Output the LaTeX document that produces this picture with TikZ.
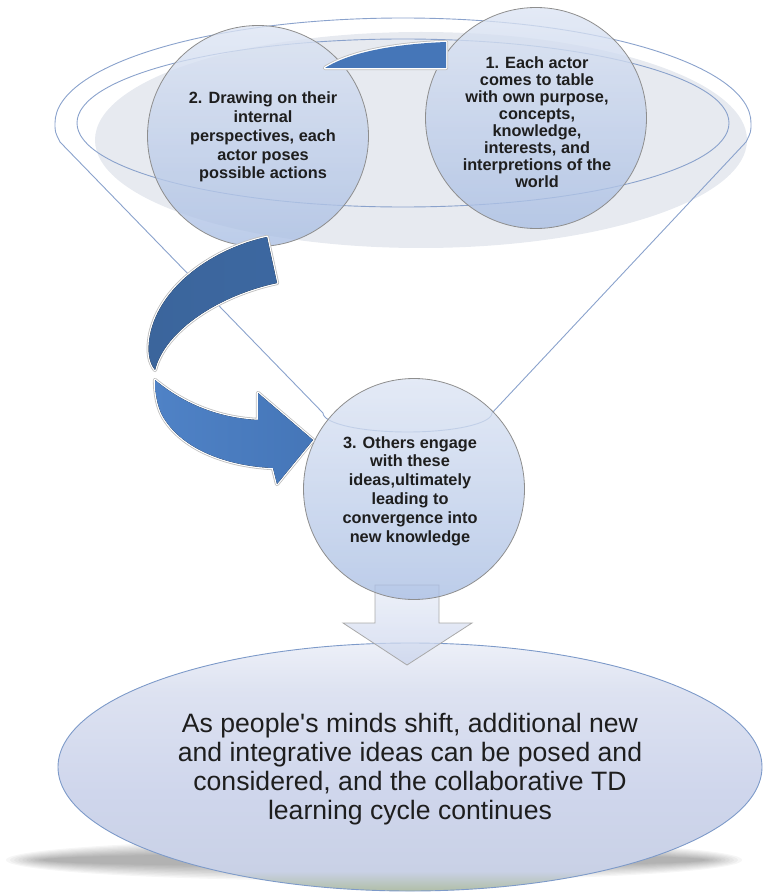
\documentclass[tikz,border=0pt]{standalone}
\usepackage{fontspec}
\setmainfont{Liberation Sans}
\usetikzlibrary{shapes.geometric}

\definecolor{textdark}{HTML}{1E1E1E}
\definecolor{rimline}{HTML}{8AA2CC}
\definecolor{rimfill}{HTML}{E7EAF0}
\definecolor{bubbleedge}{HTML}{8E8E8E}
\definecolor{bubbletop}{HTML}{DCE4F3}
\definecolor{bubblebot}{HTML}{A9BEE3}
\definecolor{ribbondark}{HTML}{3B659C}
\definecolor{ribbonmid}{HTML}{4576B8}
\definecolor{ribbonlight}{HTML}{4F82C6}
\definecolor{bevel}{HTML}{BDBDBD}
\definecolor{resedge}{HTML}{7D9AC9}
\definecolor{downtop}{HTML}{E6EBF6}
\definecolor{downbot}{HTML}{C9D3EC}
\definecolor{downedge}{HTML}{A9A9A9}
\definecolor{resA}{HTML}{B0BEA6}
\definecolor{resB}{HTML}{C9D1E6}
\definecolor{resC}{HTML}{CFD6EC}
\definecolor{resD}{HTML}{DDE2F1}
\definecolor{resE}{HTML}{EDF0F8}

% vertical fill of the result ellipse (0bp = bottom; the shape spans 25bp..75bp)
\pgfdeclareverticalshading{resshade}{100bp}{%
  color(0bp)=(resA); color(25bp)=(resA);
  color(29bp)=(resB); color(45bp)=(resC);
  color(65bp)=(resD); color(75bp)=(resE);
  color(100bp)=(resE)}

\begin{document}
\begin{tikzpicture}[x=1pt,y=-1pt,
  funnelline/.style={draw=rimline, line width=0.9pt},
  bubble/.style={circle, minimum size=221pt, inner sep=0pt,
    draw=bubbleedge, line width=0.8pt,
    top color=bubbletop, bottom color=bubblebot, fill opacity=0.78},
  bubbletext/.style={align=center, inner sep=0pt, text=textdark,
    font=\bfseries\fontsize{16.3}{#1}\selectfont},
  ribbon/.style={preaction={draw=bevel, line width=4.2pt, line join=round},
    preaction={draw=white, line width=2.6pt, line join=round}},
  downarrow/.style={draw=downedge, line width=0.8pt,
    top color=downtop, bottom color=downbot, fill opacity=0.72},
  result/.style={ellipse, minimum width=704pt, minimum height=248pt,
    inner sep=0pt, draw=resedge, line width=0.9pt, shading=resshade},
]
\useasboundingbox (0,0) rectangle (764,893);

% soft disc inside the funnel rim
\fill[rimfill] (421,140) ellipse[x radius=326, y radius=108];

% funnel: upper rim, sides and rounded bottom
\draw[funnelline] (55,123) arc[start angle=180, end angle=360, x radius=348, y radius=105]
  .. controls (751,132) .. (746,142)
  -- (492,413) arc[start angle=0, end angle=180, x radius=84.5, y radius=19]
  -- (60,142) .. controls (55,132) .. (55,123) -- cycle;
% inner rim
\draw[funnelline] (403,123) ellipse[x radius=326, y radius=84];

% shadow below the result ellipse
\foreach \i in {0,...,9}
  \fill[black, opacity=0.035] (374,860) ellipse[x radius={368-4*\i}, y radius={21-1.6*\i}];

% result ellipse
\node[result] (res) at (410,767) {};
\node[align=center, inner sep=0pt, text=textdark,
      font=\fontsize{26.6}{29}\selectfont] (t4) at (410,769)
  {As people\textquotesingle s minds shift, additional new\\
   and integrative ideas can be posed and\\
   considered, and the collaborative TD\\
   learning cycle continues};

% arrow from the funnel outlet to the result
\coordinate (dl) at (375,585);
\coordinate (dr) at (439,585);
\draw[downarrow] (dl) -- (375,623) -- (343,623) -- (407,665) -- (472,623)
  -- (439,623) -- (dr) -- cycle;

% the three actors' circles
\node[bubble] (c1) at (536,118) {};
\node[bubble] (c2) at (258,136) {};
\node[bubble] (c3) at (414,489) {};

\node[bubbletext=17] (t1) at (537,122)
  {1. Each actor\\ comes to table\\ with own purpose,\\ concepts,\\ knowledge,\\
   interests, and\\ interpretions of the\\ world};
\node[bubbletext=18.8] (t2) at (263,137)
  {2. Drawing on their\\ internal\\ perspectives, each\\ actor poses\\ possible actions};
\node[bubbletext=18.8] (t3) at (410,491)
  {3. Others engage\\ with these\\ ideas,ultimately\\ leading to\\ convergence into\\ new knowledge};

% short curved arrow from circle 1 towards circle 2
\fill[ribbon, ribbonmid] (325,68) .. controls (350,52) and (395,44) .. (446,42)
  -- (446,68) -- cycle;

% large curved arrow from circle 2 down to circle 3: upper band
\fill[ribbon, left color=ribbondark, right color=ribbondark!85!ribbonmid]
  (267,237) .. controls (215,248) and (160,285) .. (150,335)
  .. controls (147,352) and (149,362) .. (155,370)
  .. controls (165,330) and (220,295) .. (277,283) -- cycle;
% lower band with the head
\fill[ribbon, left color=ribbonlight, right color=ribbonmid]
  (155,380) .. controls (185,405) and (220,418) .. (258,420)
  -- (258,393) -- (313,440) -- (277,484) -- (273,468)
  .. controls (225,466) and (180,448) .. (162,415)
  .. controls (157,405) and (155,392) .. (155,380) -- cycle;
\end{tikzpicture}
\end{document}
